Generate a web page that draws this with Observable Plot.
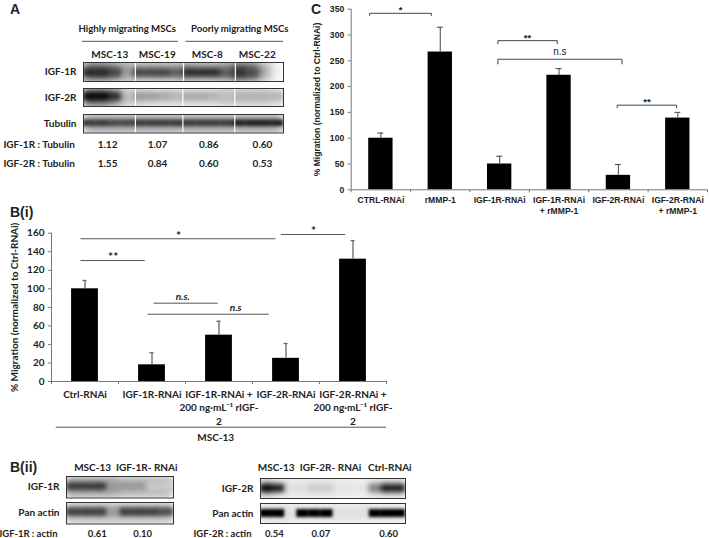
<!DOCTYPE html>
<html><head><meta charset="utf-8">
<script src="https://cdn.jsdelivr.net/npm/d3@7"></script>
<script src="https://cdn.jsdelivr.net/npm/@observablehq/plot@0.6"></script>
<style>
html,body{margin:0;padding:0;background:#fff}
#page{position:relative;width:709px;height:538px;overflow:hidden;background:#fff}
#page svg{position:absolute;overflow:visible;max-width:none}
.letter{position:absolute;font:bold 14px "Liberation Sans",sans-serif;color:#222;line-height:1}
</style></head><body><div id="page"></div>
<script>
// ---- Chart C
const cCategories=["CTRL-RNAi","rMMP-1","IGF-1R-RNAi","IGF-1R-RNAi\n+ rMMP-1","IGF-2R-RNAi","IGF-2R-RNAi\n+ rMMP-1"];
const cValues=[100,267,50,222,28,139];
const cErrorTops=[110,315,65,235,49,150];
const cBrackets=[["*",0.31,1.35,342,338],["**",2.47,3.47,289,283],["n.s",2.47,4.56,253,244],["**",4.48,5.48,164,159]];
// ---- Chart B(i)
const bCategories=["Ctrl-RNAi","IGF-1R-RNAi","IGF-1R-RNAi +\n200 ng·mL⁻¹ rIGF-\n2","IGF-2R-RNAi","IGF-2R-RNAi +\n200 ng·mL⁻¹ rIGF-\n2"];
const bValues=[100,18,50,25,132];
const bErrorTops=[109,31,65,41,152];
const bStarLines=[["*",0.44,3.35,154],["*",3.43,4.39,158.6],["**",0.44,1.4,130.5]];
const bNsLines=[["n.s.",1.53,2.49,84.5,1.96],["n.s",1.44,3.25,72.6,2.75]];
const bGroup=["MSC-13"];
// ---- Blots A
const aLanes=["MSC-13","MSC-19","MSC-8","MSC-22"];
const aGroups=["Highly migrating MSCs","Poorly migrating MSCs"];
const aRatio1=["1.12","1.07","0.86","0.60"];
const aRatio2=["1.55","0.84","0.60","0.53"];
const a1Bg=[.65,.65,.55,.4,.4,.4,.4,.4,.5,.45,.45,.5,.75,.65,.35,.05];
const a1Band=[.85,.85,.75,0,.75,.75,.75,.65,.85,.85,.85,.65,.8,.7,0,0];
const a2Bg=[.7,.7,.55,.25,.25,.2,.2,.2,.2,.2,.2,.25,.25,.25,.25,.2];
const a2Band=[1,1,.85,0,.4,.4,.35,.3,.35,.35,.3,.25,.3,.3,.3,.3];
const aTBg=Array.from(a1Bg,()=>.42);
const aTBand=[.75,.75,.7,.7,.75,.75,.75,.75,.75,.75,.75,.75,.85,.85,.85,.85];
// ---- Blots B(ii)
const iiLeftLanes=["MSC-13","IGF-1R- RNAi"];
const iiRightLanes=["MSC-13","IGF-2R- RNAi","Ctrl-RNAi"];
const iiL1Bg=[.38,.38,.38,.38,.3,.3,.3,.3];
const iiL1Band=[.8,.8,.8,.4,.4,.4,.2,.2];
const iiL2Bg=[.27,.27,.27,.27,.27,.27,.27,.27];
const iiL2Band=[.75,.75,.75,.4,.75,.75,.75,.7];
const iiR1Bg=[.3,.15,.12,.12,.12,.12,.1,.1,.1,.15,.2,.2];
const iiR1Band=[1,.9,0,0,.2,.2,0,0,0,.5,.9,.9];
const iiR2Bg=[.15,.15,.12,.12,.12,.12,.12,.12,.12,.12,.12,.12];
const iiR2Band=[1,1,0,1,1,1,0,0,0,1,1,1];
const iiLRatio=["0.61","0.10"];
const iiRRatio=["0.54","0.07","0.60"];

const page=document.getElementById("page");
const place=(el,left,top)=>{el.style.left=left+"px";el.style.top=top+"px";page.append(el);};
const letter=(t,left,top,size)=>{const d=document.createElement("div");d.className="letter";d.textContent=t;d.style.left=left+"px";d.style.top=top+"px";if(size)d.style.fontSize=size+"px";page.append(d);};
const LATO="Lato, sans-serif", ARIAL="'Liberation Sans', sans-serif", INK="#222", AXIS="#777";

function bracketPath(b,i){const [t,x1,x2,y,tip]=b;return [{i,x:x1,y:tip},{i,x:x1,y},{i,x:x2,y},{i,x:x2,y:tip}];}

// Chart C
{
 const rows=cCategories.map((c,i)=>({i,c,v:cValues[i],e:cErrorTops[i]}));
 const ticksMid=d3.range(6).map(i=>i+.5);
 const isNs=d=>d[0]==="n.s";
 place(Plot.plot({width:409,height:225,marginLeft:50.7,marginRight:2,marginTop:8.7,marginBottom:35.7,
  style:{fontFamily:ARIAL,background:"transparent"},
  x:{domain:[0,6],axis:null},y:{domain:[0,350],axis:null},
  marks:[
   Plot.rectY(rows,{x1:d=>d.i+.295,x2:d=>d.i+.705,y:"v",fill:"#000"}),
   Plot.ruleX(rows,{x:d=>d.i+.5,y1:"v",y2:"e",stroke:"#555",strokeWidth:1.1}),
   Plot.ruleY(rows,{y:"e",x1:d=>d.i+.45,x2:d=>d.i+.55,stroke:"#555",strokeWidth:1.1}),
   Plot.ruleY([0],{stroke:AXIS}),Plot.ruleX([0],{stroke:AXIS}),
   Plot.axisY({ticks:d3.range(0,351,50),tickSize:3,tickPadding:4,stroke:AXIS,fontSize:8.6,fontWeight:"bold",fill:INK,
     label:"% Migration (normalized to Ctrl-RNAi)",labelAnchor:"center",labelArrow:"none",labelOffset:37}),
   Plot.axisX({ticks:d3.range(0,7),tickSize:3,tickFormat:()=>"",stroke:AXIS,label:null}),
   Plot.axisX({ticks:ticksMid,tickSize:0,tickPadding:6,tickFormat:d=>cCategories[Math.floor(d)],fontSize:8.6,fontWeight:"bold",fill:INK,lineHeight:1.25,label:null}),
   Plot.line(cBrackets.flatMap(bracketPath),{x:"x",y:"y",z:"i",stroke:"#444",strokeWidth:1,curve:"linear"}),
   Plot.text(cBrackets.filter(d=>!isNs(d)),{x:d=>(d[1]+d[2])/2,y:d=>d[3],text:d=>d[0],dy:-3,fontSize:9.5,fontWeight:"bold",fill:INK}),
   Plot.text(cBrackets.filter(isNs),{x:d=>(d[1]+d[2])/2,y:d=>d[3],text:d=>d[0],dy:-7,fontSize:10,fill:INK})
  ]}),300,0);
}

// Chart B(i)
{
 const rows=bCategories.map((c,i)=>({i,c,v:bValues[i],e:bErrorTops[i]}));
 place(Plot.plot({width:390,height:224,marginLeft:51,marginRight:4,marginTop:10.7,marginBottom:65,
  style:{fontFamily:LATO,background:"transparent"},
  x:{domain:[0,5],axis:null},y:{domain:[0,160],axis:null},
  marks:[
   Plot.rectY(rows,{x1:d=>d.i+.3,x2:d=>d.i+.7,y:"v",fill:"#000"}),
   Plot.ruleX(rows,{x:d=>d.i+.5,y1:"v",y2:"e",stroke:"#666",strokeWidth:1.3}),
   Plot.ruleY(rows,{y:"e",x1:d=>d.i+.47,x2:d=>d.i+.53,stroke:"#666",strokeWidth:1.3}),
   Plot.ruleY([0],{stroke:AXIS}),Plot.ruleX([0],{stroke:AXIS}),
   Plot.axisY({ticks:d3.range(0,161,20),tickSize:3,tickPadding:4,stroke:AXIS,fontSize:10,fontWeight:"bold",fill:INK,
     label:"% Migration (normalized to Ctrl-RNAi)",labelAnchor:"center",labelArrow:"none",labelOffset:41}),
   Plot.axisX({ticks:d3.range(0,6),tickSize:3,tickFormat:()=>"",stroke:AXIS,label:null}),
   Plot.axisX({ticks:d3.range(5).map(i=>i+.5),tickSize:0,tickPadding:7,tickFormat:d=>bCategories[Math.floor(d)],fontSize:10,fontWeight:"bold",fill:INK,lineHeight:1.33,label:null}),
   Plot.ruleY([...bStarLines,...bNsLines],{y:d=>d[3],x1:d=>d[1],x2:d=>d[2],stroke:"#555",strokeWidth:1}),
   Plot.text(bStarLines,{x:d=>(d[1]+d[2])/2,y:d=>d[3],text:d=>d[0],dy:-3,fontSize:12,fontWeight:"bold",fill:INK}),
   Plot.text(bNsLines,{x:d=>d[4],y:d=>d[3],text:d=>d[0],dy:-6,fontSize:10,fontWeight:"bold",fontStyle:"italic",fill:INK}),
   Plot.ruleY([-49.3],{x1:.07,x2:5,stroke:"#555",strokeWidth:1}),
   Plot.text(bGroup,{x:2.45,y:-61,text:d=>d,fontSize:10,fontWeight:"bold",fill:INK})
  ]}),0,222);
}

// one blot strip
function blot({left,top,width,height,ml,label,bg,band,seps=[],y1=.3,y2=.7,blur=2.5}){
 const n=bg.length, cols=bg.map((v,i)=>({i,v})), bands=band.map((v,i)=>({i,v})).filter(d=>d.v>0);
 place(Plot.plot({width:ml+width,height,marginLeft:ml,marginRight:0,marginTop:0,marginBottom:0,
  style:{fontFamily:LATO,background:"transparent"},
  x:{domain:[0,n],axis:null},y:{domain:[0,1],axis:null},
  color:{type:"linear",domain:[0,1],range:["#fff","#000"]},
  marks:[
   Plot.rect(cols,{x1:d=>d.i,x2:d=>d.i+1,y1:0,y2:1,fill:"v",imageFilter:"blur(5px)",clip:"frame"}),
   Plot.rect(bands,{x1:d=>d.i,x2:d=>d.i+1,y1,y2,fill:"v",imageFilter:`blur(${blur}px)`,clip:"frame"}),
   Plot.ruleX(seps,{stroke:"#fff",strokeWidth:1.2}),
   Plot.frame({stroke:"#333",strokeWidth:1}),
   Plot.axisY({ticks:[.5],tickSize:0,tickPadding:7,tickFormat:()=>label,fontSize:10,fontWeight:"bold",fill:INK,label:null})
  ]}),left-ml,top);
}
function table({left,top,width,height,ml,labels,rows,positions,n,fontSize=10}){
 const data=rows.flatMap((r,k)=>r.map((t,i)=>({t,i,row:labels[k]})));
 place(Plot.plot({width:ml+width,height:height+14,marginLeft:ml,marginRight:0,marginTop:7,marginBottom:7,
  style:{fontFamily:LATO,background:"transparent"},
  x:{domain:[0,n],axis:null},y:{type:"point",domain:labels,padding:labels.length>1?0:.5,axis:null},
  marks:[
   Plot.text(data,{x:d=>positions[d.i],y:"row",text:"t",fontSize,fontWeight:"bold",fill:INK}),
   Plot.axisY({tickSize:0,tickPadding:9,fontSize,fontWeight:"bold",fill:INK,label:null})
  ]}),left-ml,top-7);
}
function heading({left,top,width,height,n,lanes,positions}){
 place(Plot.plot({width,height,margin:0,style:{fontFamily:LATO,background:"transparent"},
  x:{domain:[0,n],axis:null},y:{domain:[0,1],axis:null},
  marks:[Plot.text(lanes,{x:(d,i)=>positions[i],y:.5,text:d=>d,fontSize:10,fontWeight:"bold",fill:INK})]}),left,top);
}

// Panel A
letter("A",10,2,14);
place(Plot.plot({width:200,height:22,margin:0,style:{fontFamily:LATO,background:"transparent"},
  x:{domain:[0,16],axis:null},y:{domain:[0,1],axis:null},
  marks:[
   Plot.text(aGroups,{x:(d,i)=>[3.5,12.5][i],y:.68,text:d=>d,fontSize:9.6,fontWeight:"bold",fill:INK}),
   Plot.ruleY([0.1],{x1:-.1,x2:7.6,stroke:"#555"}),
   Plot.ruleY([0.1],{x1:8.2,x2:16,stroke:"#555"})
  ]}),83.3,21);
heading({left:83.3,top:47,width:200,height:14,n:16,lanes:aLanes,positions:[2.1,5.9,9.9,13.9]});
blot({left:83.3,top:62,width:200,height:19,ml:70,label:"IGF-1R",bg:a1Bg,band:a1Band,seps:[4.15,8,12.15],y1:.25,y2:.65});
blot({left:83.3,top:87.5,width:200,height:18,ml:70,label:"IGF-2R",bg:a2Bg,band:a2Band,seps:[4.15,7.95,12.1],y1:.35,y2:.75});
blot({left:83.3,top:113.5,width:200,height:18.5,ml:70,label:"Tubulin",bg:aTBg,band:aTBand,seps:[4.15,7.95,12.1],y1:.35,y2:.7,blur:1.5});
table({left:83.3,top:144,width:200,height:19,ml:83.3,labels:["IGF-1R : Tubulin","IGF-2R : Tubulin"],rows:[aRatio1,aRatio2],positions:[1.9,5.9,10,14.3],n:16});

// Panel B(i) letter
letter("B(i)",10,205,14);

// Panel B(ii)
letter("B(ii)",10,460,14);
heading({left:66,top:460,width:107,height:14,n:8,lanes:iiLeftLanes,positions:[1.95,6]});
blot({left:66,top:475.7,width:107,height:21.5,ml:66,label:"IGF-1R",bg:iiL1Bg,band:iiL1Band,y1:.35,y2:.7});
blot({left:66,top:502.3,width:107,height:21.5,ml:66,label:"Pan actin",bg:iiL2Bg,band:iiL2Band,y1:.35,y2:.75,blur:2});
table({left:66,top:533,width:107,height:0,ml:66,labels:["IGF-1R : actin"],rows:[iiLRatio],positions:[2.3,5.7],n:8,fontSize:9.5});
heading({left:260,top:460,width:145,height:14,n:12,lanes:iiRightLanes,positions:[1.3,5.8,10.7]});
blot({left:260,top:478.3,width:145,height:20,ml:70,label:"IGF-2R",bg:iiR1Bg,band:iiR1Band,y1:.3,y2:.7});
blot({left:260,top:503.3,width:145,height:20,ml:70,label:"Pan actin",bg:iiR2Bg,band:iiR2Band,y1:.3,y2:.7,blur:1.6});
table({left:260,top:533,width:145,height:0,ml:70,labels:["IGF-2R : actin"],rows:[iiRRatio],positions:[1.15,5,10.6],n:12,fontSize:9.5});

// Panel C letter
letter("C",311,2,14);
</script></body></html>
